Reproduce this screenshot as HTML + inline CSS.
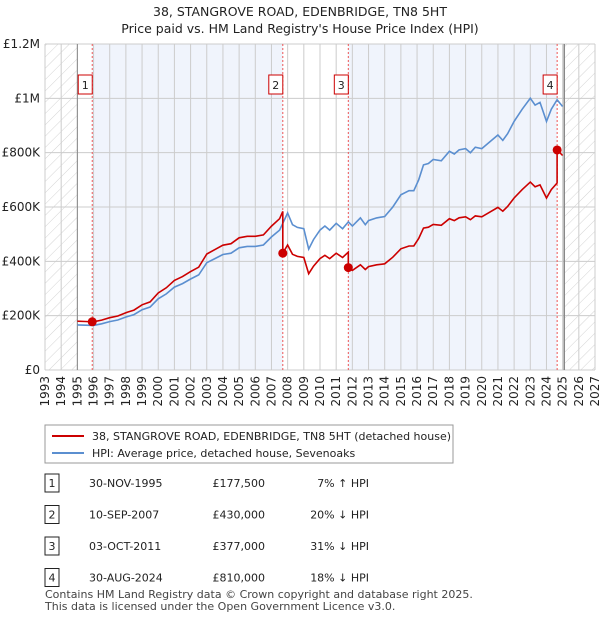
<!DOCTYPE html>
<html><head><meta charset="utf-8">
<style>
body{margin:0;background:#fff;font-family:"Liberation Sans","DejaVu Sans",sans-serif;}
svg text{font-family:"DejaVu Sans","Liberation Sans",sans-serif;}
</style></head>
<body>
<svg id="chart" width="600" height="620" xmlns="http://www.w3.org/2000/svg">
<defs>
<pattern id="hatch" width="8" height="8" patternUnits="userSpaceOnUse" patternTransform="rotate(45)">
<line x1="0" y1="0" x2="0" y2="8" stroke="#d4d4d4" stroke-width="1"/>
</pattern>
</defs>
<text x="300" y="16" text-anchor="middle" font-size="12.5" fill="#222">38, STANGROVE ROAD, EDENBRIDGE, TN8 5HT</text>
<text x="300" y="33" text-anchor="middle" font-size="12.5" fill="#222">Price paid vs. HM Land Registry's House Price Index (HPI)</text>
<g id="plot"></g>
<g id="legend">
<rect x="45" y="425" width="408" height="38" fill="#fff" stroke="#999"/>
<line x1="52" y1="436" x2="84" y2="436" stroke="#cc0000" stroke-width="2"/>
<text x="92" y="440" font-size="11" fill="#222">38, STANGROVE ROAD, EDENBRIDGE, TN8 5HT (detached house)</text>
<line x1="52" y1="453" x2="84" y2="453" stroke="#5b8fd0" stroke-width="2"/>
<text x="92" y="457" font-size="11" fill="#222">HPI: Average price, detached house, Sevenoaks</text>
</g>
<g id="table" font-size="11" fill="#222"></g>
<text x="45" y="598" font-size="11" fill="#444">Contains HM Land Registry data © Crown copyright and database right 2025.</text>
<text x="45" y="610" font-size="11" fill="#444">This data is licensed under the Open Government Licence v3.0.</text>
</svg>
<script>
const yearTicks=[1993,1994,1995,1996,1997,1998,1999,2000,2001,2002,2003,2004,2005,2006,2007,2008,2009,2010,2011,2012,2013,2014,2015,2016,2017,2018,2019,2020,2021,2022,2023,2024,2025,2026,2027];
const valueTicks=[0,200000,400000,600000,800000,1000000,1200000];
const valueTickLabels=["£0","£200K","£400K","£600K","£800K","£1M","£1.2M"];
const hpiYears=[1995.0,1995.5,1996.0,1996.5,1997.0,1997.5,1998.0,1998.5,1999.0,1999.5,2000.0,2000.5,2001.0,2001.5,2002.0,2002.5,2003.0,2003.5,2004.0,2004.5,2005.0,2005.5,2006.0,2006.5,2007.0,2007.5,2007.7,2008.0,2008.3,2008.6,2009.0,2009.3,2009.6,2010.0,2010.3,2010.6,2011.0,2011.4,2011.75,2012.0,2012.5,2012.8,2013.0,2013.5,2014.0,2014.5,2015.0,2015.5,2015.8,2016.1,2016.4,2016.7,2017.0,2017.5,2018.0,2018.3,2018.6,2019.0,2019.3,2019.6,2020.0,2020.5,2021.0,2021.3,2021.6,2022.0,2022.5,2023.0,2023.3,2023.6,2024.0,2024.3,2024.66,2025.0];
const hpiValues=[166,165,164,170,178,184,195,204,222,232,262,280,305,318,335,350,395,410,425,430,450,455,455,460,490,515,540,578,535,525,520,445,480,515,530,515,540,520,545,530,560,535,550,560,565,600,645,660,660,700,755,760,775,770,805,795,810,815,800,820,815,840,865,845,870,915,960,1000,975,985,915,960,995,970].map(v=>v*1000);
const saleLabels=["1","2","3","4"];
const saleYears=[1995.92,2007.7,2011.75,2024.66];
const salePrices=[177500,430000,377000,810000];
const saleDates=["30-NOV-1995","10-SEP-2007","03-OCT-2011","30-AUG-2024"];
const salePriceText=["£177,500","£430,000","£377,000","£810,000"];
const saleHpiText=["7% ↑ HPI","20% ↓ HPI","31% ↓ HPI","18% ↓ HPI"];

const NS="http://www.w3.org/2000/svg";
const L=45,R=595,T=44,B=370,X0=1993,X1=2027,YMAX=1200000;
const xs=y=>L+(y-X0)/(X1-X0)*(R-L);
const ys=v=>B-v/YMAX*(B-T);
function mk(tag,attrs,parent){const e=document.createElementNS(NS,tag);for(const k in attrs)e.setAttribute(k,attrs[k]);parent.appendChild(e);return e;}
const plot=document.getElementById('plot');
function hpiAt(yr){for(let i=0;i<hpiYears.length-1;i++){if(yr>=hpiYears[i]&&yr<=hpiYears[i+1]){const t=(yr-hpiYears[i])/(hpiYears[i+1]-hpiYears[i]);return hpiValues[i]+t*(hpiValues[i+1]-hpiValues[i]);}}return hpiValues[hpiValues.length-1];}
const dataStart=hpiYears[0],dataEnd=hpiYears[hpiYears.length-1]+0.1;
let r=mk('rect',{x:L,y:T,width:xs(dataStart)-L,height:B-T,fill:'url(#hatch)'},plot);


r=mk('rect',{x:xs(dataEnd),y:T,width:R-xs(dataEnd),height:B-T,fill:'url(#hatch)'},plot);


for(let i=0;i<saleYears.length;i+=2){
 const a=saleYears[i],b=i+1<saleYears.length?saleYears[i+1]:dataEnd;
 r=mk('rect',{x:xs(a),y:T,width:xs(b)-xs(a),height:B-T,fill:'#f0f4fc'},plot);
 
 
}
yearTicks.forEach(y=>{const l=mk('line',{x1:xs(y),x2:xs(y),y1:T,y2:B,stroke:'#ccc','stroke-width':1},plot);
 
 
 const t=mk('text',{x:0,y:0,'font-size':12,fill:'#222','text-anchor':'end',transform:`translate(${xs(y)+4},${B+6}) rotate(-90)`},plot);
 t.textContent=y;
 
 
});
valueTicks.forEach((v,i)=>{const l=mk('line',{x1:L,x2:R,y1:ys(v),y2:ys(v),stroke:'#ccc','stroke-width':1},plot);
 
 
 const t=mk('text',{x:L-5,y:ys(v)+4,'font-size':12,fill:'#222','text-anchor':'end'},plot);
 t.textContent=valueTickLabels[i];
 
 
});
let bl=mk('line',{x1:xs(dataStart),x2:xs(dataStart),y1:T,y2:B,stroke:'#888','stroke-width':1},plot);


bl=mk('line',{x1:xs(dataEnd),x2:xs(dataEnd),y1:T,y2:B,stroke:'#888','stroke-width':1.5},plot);


saleYears.forEach((y,i)=>{const l=mk('line',{x1:xs(y),x2:xs(y),y1:T,y2:B,stroke:'#e55','stroke-width':1,'stroke-dasharray':'2,2'},plot);
 
 
 const g=mk('g',{},plot);
 
 
 mk('rect',{x:xs(y)-14,y:75,width:14,height:19,fill:'#fff',stroke:'#cc0000'},g);
 const t=mk('text',{x:xs(y)-7,y:89,'font-size':11,'text-anchor':'middle',fill:'#222'},g);t.textContent=saleLabels[i];
});
let d='';hpiYears.forEach((y,i)=>{d+=(i?'L':'M')+xs(y).toFixed(1)+','+ys(hpiValues[i]).toFixed(1);});
let p=mk('path',{d:d,fill:'none',stroke:'#5b8fd0','stroke-width':1.6},plot);


let pts=[];
const ratioAt=yr=>{let k=0;for(let i=0;i<saleYears.length;i++)if(yr>=saleYears[i])k=i;return salePrices[k]/hpiAt(saleYears[k]);};
hpiYears.forEach((y,i)=>{
 for(let s=0;s<saleYears.length;s++){if(saleYears[s]>(i?hpiYears[i-1]:0)&&saleYears[s]<=y&&i>0){
  const pr=salePrices[s-1>=0?s-1:0]/hpiAt(saleYears[s-1>=0?s-1:0]);
  pts.push([saleYears[s],hpiAt(saleYears[s])*(s>0?pr:salePrices[0]/hpiAt(saleYears[0]))]);
  pts.push([saleYears[s],salePrices[s]]);}}
 pts.push([y,hpiValues[i]*ratioAt(y)]);
});
d='';pts.forEach((q,i)=>{d+=(i?'L':'M')+xs(q[0]).toFixed(1)+','+ys(q[1]).toFixed(1);});
p=mk('path',{d:d,fill:'none',stroke:'#cc0000','stroke-width':1.6},plot);


saleYears.forEach((y,i)=>{const c=mk('circle',{cx:xs(y),cy:ys(salePrices[i]),r:4.5,fill:'#cc0000'},plot);
 
 
});
const tb=document.getElementById('table');
saleLabels.forEach((s,i)=>{const y=485+i*31.5;
 const g=mk('g',{},tb);
 
 
 mk('rect',{x:45,y:y-11,width:14,height:18,fill:'#fff',stroke:'#222'},g);
 let t=mk('text',{x:52,y:y+2,'text-anchor':'middle'},g);t.textContent=s;
 t=mk('text',{x:89,y:y+2},g);t.textContent=saleDates[i];
 t=mk('text',{x:265,y:y+2,'text-anchor':'end'},g);t.textContent=salePriceText[i];
 t=mk('text',{x:369,y:y+2,'text-anchor':'end'},g);t.textContent=saleHpiText[i];
});
</script>
</body></html>
